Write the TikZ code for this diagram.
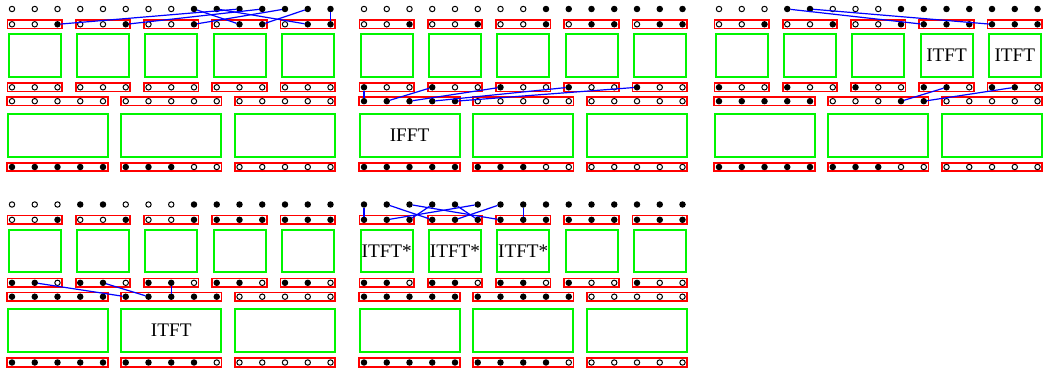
\documentclass[tikz,border=0pt]{standalone}
\usepackage{fontspec}
\setmainfont{Liberation Serif}
\usepackage{tikz}
\usetikzlibrary{calc}
\usepackage{xcolor}
\definecolor{blockgreen}{RGB}{0,245,0}
\colorlet{dot0}{white}
\colorlet{dot1}{black}

% one row of 15 sample dots, 0 = empty, 1 = filled
\newcommand{\dotrow}[4]{%
  \foreach \f [count=\i from 0] in {#4}
    \node[dotnode,fill=dot\f] (#1-\i) at ({#2+22.75*\i},#3) {};
}

\begin{document}
\begin{tikzpicture}[x=0.5pt,y=-0.5pt,
  every node/.style={font=\fontsize{9.6}{11}\selectfont},
  dotnode/.style={circle,draw=black,line width=0.5pt,inner sep=0pt,minimum size=2.7pt},
  slot/.style={draw=red,line width=0.85pt,inner sep=0pt,minimum height=4.2pt},
  block/.style={draw=blockgreen,line width=1pt,inner sep=0pt},
  link/.style={draw=blue,line width=0.6pt}]
\useasboundingbox (0,0) rectangle (1043,370);

% boxes of the five panels
\foreach \p/\px/\py in {A/12/0,B/364/0,C/719/0,D/12/195.5,E/364/195.5}{
  \foreach \k in {0,...,4}{
    \node[slot,minimum width=27.3pt] (\p-ra-\k) at ({\px+22.75*(3*\k+1)},{\py+24.3}) {};
    \node[block,minimum width=26pt,minimum height=21.2pt] (\p-g-\k) at ({\px+22.75*(3*\k+1)},{\py+55.5}) {};
    \node[slot,minimum width=27.3pt] (\p-rb-\k) at ({\px+22.75*(3*\k+1)},{\py+87.3}) {};
  }
  \foreach \k in {0,1,2}{
    \node[slot,minimum width=50.2pt] (\p-rc-\k) at ({\px+22.75*(5*\k+2)},{\py+101.2}) {};
    \node[block,minimum width=50pt,minimum height=21.5pt] (\p-G-\k) at ({\px+22.75*(5*\k+2)},{\py+135.2}) {};
    \node[slot,minimum width=50.2pt] (\p-rd-\k) at ({\px+22.75*(5*\k+2)},{\py+167}) {};
  }
}

% labels
\node (B-ifft) at (B-G-0) {IFFT};
\node (C-itft-3) at (C-g-3) {ITFT};
\node (C-itft-4) at (C-g-4) {ITFT};
\node (D-itft) at (D-G-1) {ITFT};
\node (E-itft-0) at (E-g-0) {ITFT*};
\node (E-itft-1) at (E-g-1) {ITFT*};
\node (E-itft-2) at (E-g-2) {ITFT*};

% panel A
\dotrow{A-t}{12}{9}{0,0,0,0,0,0,0,0,1,1,1,1,1,1,1}
\dotrow{A-a}{12}{24.3}{0,0,1,0,0,1,0,0,1,0,1,1,0,1,1}
\dotrow{A-b}{12}{87.3}{0,0,0,0,0,0,0,0,0,0,0,0,0,0,0}
\dotrow{A-c}{12}{101.2}{0,0,0,0,0,0,0,0,0,0,0,0,0,0,0}
\dotrow{A-d}{12}{167}{1,1,1,1,1,1,1,1,0,0,0,0,0,0,0}
\draw[link] (A-t-8) -- (A-a-10);
\draw[link] (A-t-9) -- (A-a-13);
\draw[link] (A-t-10) -- (A-a-2);
\draw[link] (A-t-11) -- (A-a-5);
\draw[link] (A-t-12) -- (A-a-8);
\draw[link] (A-t-13) -- (A-a-11);
\draw[link] (A-t-14) -- (A-a-14);

% panel B
\dotrow{B-t}{364}{9}{0,0,0,0,0,0,0,0,1,1,1,1,1,1,1}
\dotrow{B-a}{364}{24.3}{0,0,1,0,0,1,0,0,1,0,1,1,0,1,1}
\dotrow{B-b}{364}{87.3}{1,0,0,1,0,0,1,0,0,1,0,0,1,0,0}
\dotrow{B-c}{364}{101.2}{1,1,1,1,1,0,0,0,0,0,0,0,0,0,0}
\dotrow{B-d}{364}{167}{1,1,1,1,1,1,1,1,0,0,0,0,0,0,0}
\draw[link] (B-b-0) -- (B-c-0);
\draw[link] (B-b-3) -- (B-c-1);
\draw[link] (B-b-6) -- (B-c-2);
\draw[link] (B-b-9) -- (B-c-3);
\draw[link] (B-b-12) -- (B-c-4);

% panel C
\dotrow{C-t}{719}{9}{0,0,0,1,1,0,0,0,1,1,1,1,1,1,1}
\dotrow{C-a}{719}{24.3}{0,0,1,0,0,1,0,0,1,1,1,1,1,1,1}
\dotrow{C-b}{719}{87.3}{1,0,0,1,0,0,1,0,0,1,1,0,1,1,0}
\dotrow{C-c}{719}{101.2}{1,1,1,1,1,0,0,0,1,1,0,0,0,0,0}
\dotrow{C-d}{719}{167}{1,1,1,1,1,1,1,1,0,0,0,0,0,0,0}
\draw[link] (C-t-3) -- (C-a-9);
\draw[link] (C-t-4) -- (C-a-12);
\draw[link] (C-b-10) -- (C-c-8);
\draw[link] (C-b-13) -- (C-c-9);

% panel D
\dotrow{D-t}{12}{204.5}{0,0,0,1,1,0,0,0,1,1,1,1,1,1,1}
\dotrow{D-a}{12}{219.8}{0,0,1,0,0,1,0,0,1,1,1,1,1,1,1}
\dotrow{D-b}{12}{282.8}{1,1,0,1,1,0,1,1,0,1,1,0,1,1,0}
\dotrow{D-c}{12}{296.7}{1,1,1,1,1,1,1,1,1,1,0,0,0,0,0}
\dotrow{D-d}{12}{362.5}{1,1,1,1,1,1,1,1,1,0,0,0,0,0,0}
\draw[link] (D-b-1) -- (D-c-5);
\draw[link] (D-b-4) -- (D-c-6);
\draw[link] (D-b-7) -- (D-c-7);

% panel E
\dotrow{E-t}{364}{204.5}{1,1,1,1,1,1,1,1,1,1,1,1,1,1,1}
\dotrow{E-a}{364}{219.8}{1,1,1,1,1,1,1,1,1,1,1,1,1,1,1}
\dotrow{E-b}{364}{282.8}{1,1,0,1,1,0,1,1,0,1,0,0,1,0,0}
\dotrow{E-c}{364}{296.7}{1,1,1,1,1,1,1,1,1,1,0,0,0,0,0}
\dotrow{E-d}{364}{362.5}{1,1,1,1,1,1,1,1,1,0,0,0,0,0,0}
\draw[link] (E-t-0) -- (E-a-0);
\draw[link] (E-t-1) -- (E-a-3);
\draw[link] (E-t-2) -- (E-a-6);
\draw[link] (E-t-3) -- (E-a-2);
\draw[link] (E-t-4) -- (E-a-5);
\draw[link] (E-t-5) -- (E-a-1);
\draw[link] (E-t-6) -- (E-a-4);
\draw[link] (E-t-7) -- (E-a-7);
\end{tikzpicture}
\end{document}
